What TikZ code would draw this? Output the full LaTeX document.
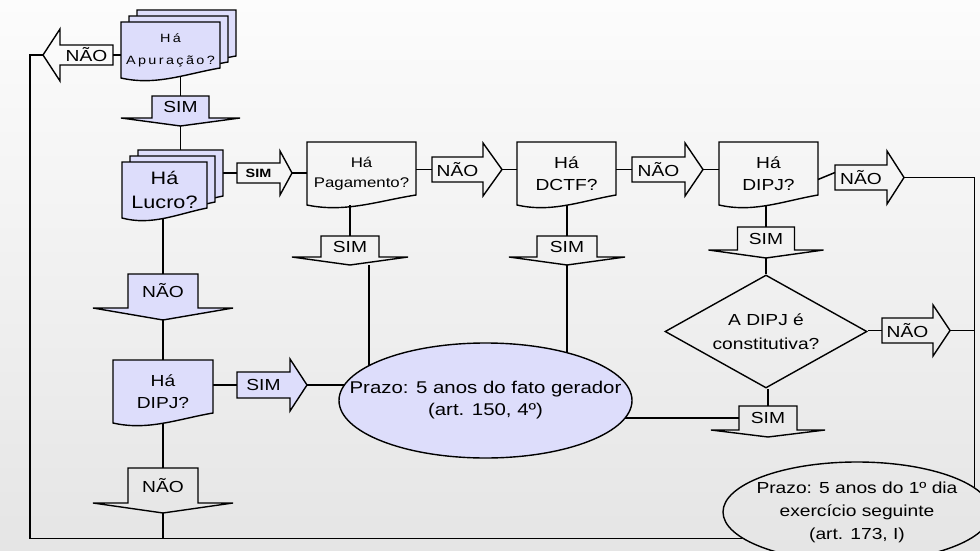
\documentclass[tikz,border=0pt]{standalone}
\usepackage{fontspec}
\setmainfont{Liberation Sans}[FakeStretch=1.2]
\usetikzlibrary{shapes.geometric,shadows}

\definecolor{lav}{RGB}{221,221,251}
\definecolor{bgtop}{RGB}{252,252,252}
\definecolor{bgbot}{RGB}{229,229,229}

\newcommand\setfs[2]{\fontsize{#1}{#2}\selectfont}

\pgfdeclarelayer{bg}
\pgfsetlayers{bg,main}

\makeatletter
\newdimen\bk@xa \newdimen\bk@ya
\newdimen\bk@xb \newdimen\bk@yb
\newdimen\bk@xc \newdimen\bk@yc
\pgfkeys{/pgf/blk ext/.initial=12pt,
         /pgf/blk len/.initial=17pt,
         /pgf/blk dir/.initial=0}

% document with a wavy bottom edge
\pgfdeclareshape{docpage}{%
  \inheritsavedanchors[from=rectangle]%
  \inheritanchorborder[from=rectangle]%
  \inheritanchor[from=rectangle]{center}%
  \inheritanchor[from=rectangle]{north}%
  \inheritanchor[from=rectangle]{south}%
  \inheritanchor[from=rectangle]{east}%
  \inheritanchor[from=rectangle]{west}%
  \backgroundpath{%
    \southwest \bk@xa=\pgf@x \bk@ya=\pgf@y
    \northeast \bk@xb=\pgf@x \bk@yb=\pgf@y
    \bk@xc=\bk@xb \advance\bk@xc by-\bk@xa
    \pgfpathmoveto{\pgfqpoint{\bk@xa}{\bk@yb}}%
    \pgfpathlineto{\pgfqpoint{\bk@xb}{\bk@yb}}%
    \pgfpathlineto{\pgfpoint{\bk@xb}{\bk@ya+10pt}}%
    \pgfpathcurveto{\pgfpoint{\bk@xb-0.35*\bk@xc}{\bk@ya+4pt}}%
                   {\pgfpoint{\bk@xa+0.35*\bk@xc}{\bk@ya-8pt}}%
                   {\pgfqpoint{\bk@xa}{\bk@ya}}%
    \pgfpathclose
  }%
}

% block arrow: 0 right, 1 left, 2 down
\pgfdeclareshape{blockarrow}{%
  \inheritsavedanchors[from=rectangle]%
  \inheritanchorborder[from=rectangle]%
  \inheritanchor[from=rectangle]{center}%
  \inheritanchor[from=rectangle]{north}%
  \inheritanchor[from=rectangle]{south}%
  \inheritanchor[from=rectangle]{east}%
  \inheritanchor[from=rectangle]{west}%
  \saveddimen\blkext{\pgfmathsetlength\pgf@x{\pgfkeysvalueof{/pgf/blk ext}}}%
  \saveddimen\blklen{\pgfmathsetlength\pgf@x{\pgfkeysvalueof{/pgf/blk len}}}%
  \savedmacro\blkdir{\edef\blkdir{\pgfkeysvalueof{/pgf/blk dir}}}%
  \anchor{tip}{%
    \southwest \bk@xa=\pgf@x \bk@ya=\pgf@y
    \northeast \bk@xb=\pgf@x \bk@yb=\pgf@y
    \ifcase\blkdir\relax
      \pgf@x=\bk@xb \advance\pgf@x by\blklen
      \pgf@y=.5\bk@ya \advance\pgf@y by.5\bk@yb
    \or
      \pgf@x=\bk@xa \advance\pgf@x by-\blklen
      \pgf@y=.5\bk@ya \advance\pgf@y by.5\bk@yb
    \else
      \pgf@x=.5\bk@xa \advance\pgf@x by.5\bk@xb
      \pgf@y=\bk@ya \advance\pgf@y by-\blklen
    \fi}%
  \backgroundpath{%
    \southwest \bk@xa=\pgf@x \bk@ya=\pgf@y
    \northeast \bk@xb=\pgf@x \bk@yb=\pgf@y
    \bk@xc=.5\bk@xa \advance\bk@xc by.5\bk@xb
    \bk@yc=.5\bk@ya \advance\bk@yc by.5\bk@yb
    \ifcase\blkdir\relax
      \pgfpathmoveto{\pgfqpoint{\bk@xa}{\bk@ya}}%
      \pgfpathlineto{\pgfqpoint{\bk@xb}{\bk@ya}}%
      \pgfpathlineto{\pgfpoint{\bk@xb}{\bk@ya-\blkext}}%
      \pgfpathlineto{\pgfpoint{\bk@xb+\blklen}{\bk@yc}}%
      \pgfpathlineto{\pgfpoint{\bk@xb}{\bk@yb+\blkext}}%
      \pgfpathlineto{\pgfqpoint{\bk@xb}{\bk@yb}}%
      \pgfpathlineto{\pgfqpoint{\bk@xa}{\bk@yb}}%
    \or
      \pgfpathmoveto{\pgfqpoint{\bk@xb}{\bk@ya}}%
      \pgfpathlineto{\pgfqpoint{\bk@xa}{\bk@ya}}%
      \pgfpathlineto{\pgfpoint{\bk@xa}{\bk@ya-\blkext}}%
      \pgfpathlineto{\pgfpoint{\bk@xa-\blklen}{\bk@yc}}%
      \pgfpathlineto{\pgfpoint{\bk@xa}{\bk@yb+\blkext}}%
      \pgfpathlineto{\pgfqpoint{\bk@xa}{\bk@yb}}%
      \pgfpathlineto{\pgfqpoint{\bk@xb}{\bk@yb}}%
    \else
      \pgfpathmoveto{\pgfqpoint{\bk@xa}{\bk@yb}}%
      \pgfpathlineto{\pgfqpoint{\bk@xa}{\bk@ya}}%
      \pgfpathlineto{\pgfpoint{\bk@xa-\blkext}{\bk@ya}}%
      \pgfpathlineto{\pgfpoint{\bk@xc}{\bk@ya-\blklen}}%
      \pgfpathlineto{\pgfpoint{\bk@xb+\blkext}{\bk@ya}}%
      \pgfpathlineto{\pgfqpoint{\bk@xb}{\bk@ya}}%
      \pgfpathlineto{\pgfqpoint{\bk@xb}{\bk@yb}}%
    \fi
    \pgfpathclose
  }%
}
\makeatother

\tikzset{
  blk ext/.code={\pgfkeys{/pgf/blk ext=#1}},
  blk len/.code={\pgfkeys{/pgf/blk len=#1}},
  blk dir/.code={\pgfkeys{/pgf/blk dir=#1}},
  conn/.style={line width=1.5pt},
  docbox/.style={shape=docpage, draw, line width=1.4pt, inner sep=0pt, outer sep=0pt, align=center},
  stack/.style={docbox, fill=lav,
    copy shadow={shadow xshift=16pt, shadow yshift=12pt, draw, fill=lav},
    copy shadow={shadow xshift=8pt, shadow yshift=6pt, draw, fill=lav}},
  arrowbox/.style={shape=blockarrow, draw, line width=1.4pt, inner sep=0pt, outer sep=0pt, font=\setfs{16}{16}},
  rarrow/.style={arrowbox, blk dir=0},
  larrow/.style={arrowbox, blk dir=1},
  darrow/.style={arrowbox, blk dir=2},
}

\begin{document}
\begin{tikzpicture}[x=1pt, y=-1pt]
  \useasboundingbox (0,0) rectangle (980,551);
  \begin{pgfonlayer}{bg}
    \shade[top color=bgtop, bottom color=bgbot] (0,0) rectangle (980,551);
  \end{pgfonlayer}

  % Questions
  \node[stack, minimum width=99, minimum height=56, font=\setfs{12}{22}\addfontfeatures{LetterSpace=20}] (apu) at (170.5,50) {Há\\Apuração?};
  \node[stack, minimum width=85, minimum height=56, font=\setfs{18}{24}] (luc) at (164.5,190) {Há\\Lucro?};
  \node[docbox, minimum width=109, minimum height=63, font=\setfs{14}{20}] (pag) at (361.5,173.5) {Há\\Pagamento?};
  \node[docbox, minimum width=99, minimum height=63, font=\setfs{16}{22}] (dctf) at (566.5,173.5) {Há\\DCTF?};
  \node[docbox, minimum width=99, minimum height=63, font=\setfs{16}{22}] (dipjR) at (768.5,173.5) {Há\\DIPJ?};
  \node[docbox, fill=lav, minimum width=100, minimum height=63, font=\setfs{16}{22}] (dipjL) at (163,391.5) {Há\\DIPJ?};
  \node[diamond, draw, line width=1.4pt, inner sep=0pt, aspect=1.79, minimum width=202, minimum height=113, align=center, font=\setfs{16}{24}] (const) at (766,331.5) {A DIPJ é\\constitutiva?};

  % Deadlines
  \node[ellipse, draw, fill=lav, line width=1.4pt, inner xsep=-40pt, inner ysep=0pt, minimum width=293, minimum height=115, align=center, font=\setfs{17}{22}] (prazo) at (485.5,400.5) {Prazo: 5 anos do fato gerador\\(art. 150, 4º)};
  \node[ellipse, draw, line width=1.4pt, inner xsep=-20pt, inner ysep=0pt, minimum width=268, minimum height=100, align=center, font=\setfs{16}{23}] (prazoB) at (857,512) {Prazo: 5 anos do 1º dia\\exercício seguinte\\(art. 173, I)};

  % Answers
  \node[larrow, minimum width=53, minimum height=20, blk ext=16, blk len=17] (naoA) at (86.5,55) {NÃO};
  \node[darrow, fill=lav, minimum width=57, minimum height=22, blk ext=31, blk len=8] (simA) at (180.5,107) {SIM};
  \node[rarrow, minimum width=43, minimum height=20, blk ext=12, blk len=12, font=\setfs{12}{12}\bfseries] (simL) at (258.5,173) {SIM};
  \node[darrow, fill=lav, minimum width=70, minimum height=34, blk ext=35, blk len=12] (naoL) at (163,291) {NÃO};
  \node[rarrow, fill=lav, minimum width=53, minimum height=26, blk ext=13, blk len=17] (simD) at (263.5,385) {SIM};
  \node[darrow, minimum width=70, minimum height=35, blk ext=35, blk len=10] (naoD) at (163,485.5) {NÃO};
  \node[darrow, minimum width=58, minimum height=21, blk ext=29, blk len=8] (simP) at (350,246.5) {SIM};
  \node[rarrow, minimum width=51, minimum height=25, blk ext=14, blk len=19] (naoP) at (457.5,169.5) {NÃO};
  \node[darrow, minimum width=60, minimum height=21, blk ext=28, blk len=8] (simC) at (567,246.5) {SIM};
  \node[rarrow, minimum width=53, minimum height=25, blk ext=14, blk len=18] (naoC) at (658.5,169.5) {NÃO};
  \node[darrow, minimum width=57, minimum height=23, blk ext=29, blk len=8] (simR) at (766,238.5) {SIM};
  \node[rarrow, minimum width=52, minimum height=25, blk ext=14, blk len=17] (naoR) at (861,177.5) {NÃO};
  \node[rarrow, minimum width=51, minimum height=25, blk ext=13, blk len=17] (naoK) at (907.5,330.5) {NÃO};
  \node[darrow, minimum width=58, minimum height=24, blk ext=28, blk len=7] (simB) at (768,418) {SIM};

  % Connectors
  \begin{pgfonlayer}{bg}
    \draw[conn] (naoA.east) -- (naoA.east -| apu.center);
    \draw[conn] (naoA.tip) -- ++(-13,0) |- (prazoB.193);
    \draw[conn] (simA.north) -- (simA.north |- apu.center);
    \draw[conn] (simA.tip) -- (simA.tip |- luc.center);
    \draw[conn] (simL.west) -- (simL.west -| luc.center);
    \draw[conn] (simL.tip) -- (simL.tip -| pag.west);
    \draw[conn] (naoL.north) -- (naoL.north |- luc.center);
    \draw[conn] (naoL.tip) -- (naoL.tip |- dipjL.center);
    \draw[conn] (naoD.north) -- (naoD.north |- dipjL.center);
    \draw[conn] (naoD.tip) -- (naoD.tip |- prazoB.193);
    \draw[conn] (simD.west) -- (simD.west -| dipjL.center);
    \draw[conn] (simD.tip) -- (simD.tip -| prazo.center);
    \draw[conn] (simP.north) -- (simP.north |- pag.south);
    \draw[conn] ([xshift=19pt]simP.tip) -- ([xshift=19pt]simP.tip |- prazo.center);
    \draw[conn] (naoP.west) -- (naoP.west -| pag.east);
    \draw[conn] (naoP.tip) -- (naoP.tip -| dctf.west);
    \draw[conn] (simC.north) -- (simC.north |- dctf.south);
    \draw[conn] (simC.tip) -- (simC.tip |- prazo.center);
    \draw[conn] (naoC.west) -- (naoC.west -| dctf.east);
    \draw[conn] (naoC.tip) -- (naoC.tip -| dipjR.west);
    \draw[conn] ([yshift=-6pt]dipjR.east) -- ([yshift=5pt]naoR.west);
    \draw[conn] (naoR.tip) -| (prazoB.12);
    \draw[conn] (simR.north) -- (simR.north |- dipjR.south);
    \draw[conn] (simR.tip) -- (const.north);
    \draw[conn] (naoK.west) -- (naoK.west -| const.east);
    \draw[conn] (naoK.tip) -- (naoK.tip -| prazoB.12);
    \draw[conn] (simB.north) -- (simB.north |- const.south);
    \draw[conn] (simB.west) -- (simB.west -| prazo.center);
  \end{pgfonlayer}
\end{tikzpicture}
\end{document}
